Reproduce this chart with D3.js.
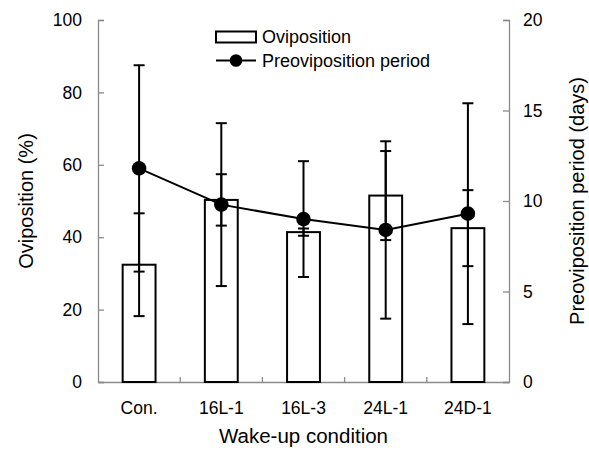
<!DOCTYPE html>
<html lang="en">
<head>
<meta charset="utf-8">
<title>Oviposition and preoviposition period</title>
<script src="https://d3js.org/d3.v7.min.js"></script>
<style>
  body { margin: 0; background: #fff; }
  text { font-family: "Liberation Sans", Arial, sans-serif; fill: #000; }
</style>
</head>
<body>
<script>
// values
const conditions = ["Con.", "16L-1", "16L-3", "24L-1", "24D-1"];
const oviposition = [32.4, 50.3, 41.4, 51.5, 42.5];      // %
const ovipositionErr = [14.2, 7.1, 1.0, 12.3, 10.5];
const preoviposition = [11.8, 9.8, 9.0, 8.4, 9.3];       // days
const preovipositionErr = [5.7, 4.5, 3.2, 4.9, 6.1];
const leftTicks = [0, 20, 40, 60, 80, 100];
const rightTicks = [0, 5, 10, 15, 20];

const width = 589, height = 461;
const plotL = 98, plotR = 509, plotT = 20, plotB = 382;
const axisGrey = "#8a8a8a";

const svg = d3.select("body").append("svg")
  .attr("width", width)
  .attr("height", height);

const x = d3.scaleBand().domain(conditions).range([plotL, plotR]).padding(0);
const yL = d3.scaleLinear().domain([0, 100]).range([plotB, plotT]);
const yR = d3.scaleLinear().domain([0, 20]).range([plotB, plotT]);

const barW = x.bandwidth() * 0.4;
const capW = 5.5;

// axes
const gL = svg.append("g")
  .attr("transform", `translate(${plotL},0)`)
  .call(d3.axisLeft(yL).tickValues(leftTicks).tickSizeInner(-6).tickSizeOuter(-6).tickPadding(16));
const gR = svg.append("g")
  .attr("transform", `translate(${plotR},0)`)
  .call(d3.axisRight(yR).tickValues(rightTicks).tickSizeInner(-6).tickSizeOuter(-6).tickPadding(14));
[gL, gR].forEach(g => {
  g.selectAll("path, line").attr("stroke", axisGrey).attr("stroke-width", 1.3);
  g.selectAll("text").style("font-size", "17.5px").attr("fill", "#000");
});

const gX = svg.append("g")
  .attr("transform", `translate(0,${plotB})`)
  .call(d3.axisBottom(x).tickSize(0).tickPadding(20));
gX.select(".domain").attr("stroke", axisGrey).attr("stroke-width", 1.3);
gX.selectAll("text").style("font-size", "17.5px").attr("fill", "#000");

// small ticks between categories
svg.append("g").selectAll("line")
  .data(conditions.slice(1))
  .join("line")
  .attr("x1", d => x(d)).attr("x2", d => x(d))
  .attr("y1", plotB).attr("y2", plotB - 5)
  .attr("stroke", axisGrey).attr("stroke-width", 1.3);

// bars
const cx = d => x(d) + x.bandwidth() / 2;
svg.append("g").selectAll("rect")
  .data(conditions)
  .join("rect")
  .attr("x", d => cx(d) - barW / 2)
  .attr("width", barW)
  .attr("y", (d, i) => yL(oviposition[i]))
  .attr("height", (d, i) => plotB - yL(oviposition[i]))
  .attr("fill", "#fff")
  .attr("stroke", "#000")
  .attr("stroke-width", 2);

function errorBars(vals, errs, scale) {
  const g = svg.append("g").attr("stroke", "#000").attr("stroke-width", 2);
  conditions.forEach((c, i) => {
    const hi = scale(vals[i] + errs[i]), lo = scale(vals[i] - errs[i]);
    g.append("line").attr("x1", cx(c)).attr("x2", cx(c)).attr("y1", hi).attr("y2", lo);
    g.append("line").attr("x1", cx(c) - capW).attr("x2", cx(c) + capW).attr("y1", hi).attr("y2", hi);
    g.append("line").attr("x1", cx(c) - capW).attr("x2", cx(c) + capW).attr("y1", lo).attr("y2", lo);
  });
}
errorBars(oviposition, ovipositionErr, yL);

// preoviposition line
const line = d3.line()
  .x((d, i) => cx(conditions[i]))
  .y(d => yR(d));
svg.append("path")
  .datum(preoviposition)
  .attr("d", line)
  .attr("fill", "none")
  .attr("stroke", "#000")
  .attr("stroke-width", 2);
errorBars(preoviposition, preovipositionErr, yR);
svg.append("g").selectAll("circle")
  .data(preoviposition)
  .join("circle")
  .attr("cx", (d, i) => cx(conditions[i]))
  .attr("cy", d => yR(d))
  .attr("r", 7.3)
  .attr("fill", "#000");

// legend
const lg = svg.append("g");
lg.append("rect").attr("x", 216).attr("y", 31.5).attr("width", 40).attr("height", 11)
  .attr("fill", "#fff").attr("stroke", "#000").attr("stroke-width", 2);
lg.append("text").attr("x", 262).attr("y", 43).style("font-size", "18px").text("Oviposition");
lg.append("line").attr("x1", 216).attr("x2", 256).attr("y1", 60.5).attr("y2", 60.5)
  .attr("stroke", "#000").attr("stroke-width", 2);
lg.append("circle").attr("cx", 236).attr("cy", 60.5).attr("r", 6.3).attr("fill", "#000");
lg.append("text").attr("x", 262).attr("y", 67).style("font-size", "18px").text("Preoviposition period");

// axis titles
svg.append("text")
  .attr("x", (plotL + plotR) / 2).attr("y", 443)
  .attr("text-anchor", "middle")
  .style("font-size", "20.5px")
  .text("Wake-up condition");
svg.append("text")
  .attr("transform", `translate(33,${(plotT + plotB) / 2}) rotate(-90)`)
  .attr("text-anchor", "middle")
  .style("font-size", "20px")
  .text("Oviposition (%)");
svg.append("text")
  .attr("transform", `translate(584,${(plotT + plotB) / 2}) rotate(-90)`)
  .attr("text-anchor", "middle")
  .style("font-size", "20px")
  .text("Preoviposition period (days)");
</script>
</body>
</html>
